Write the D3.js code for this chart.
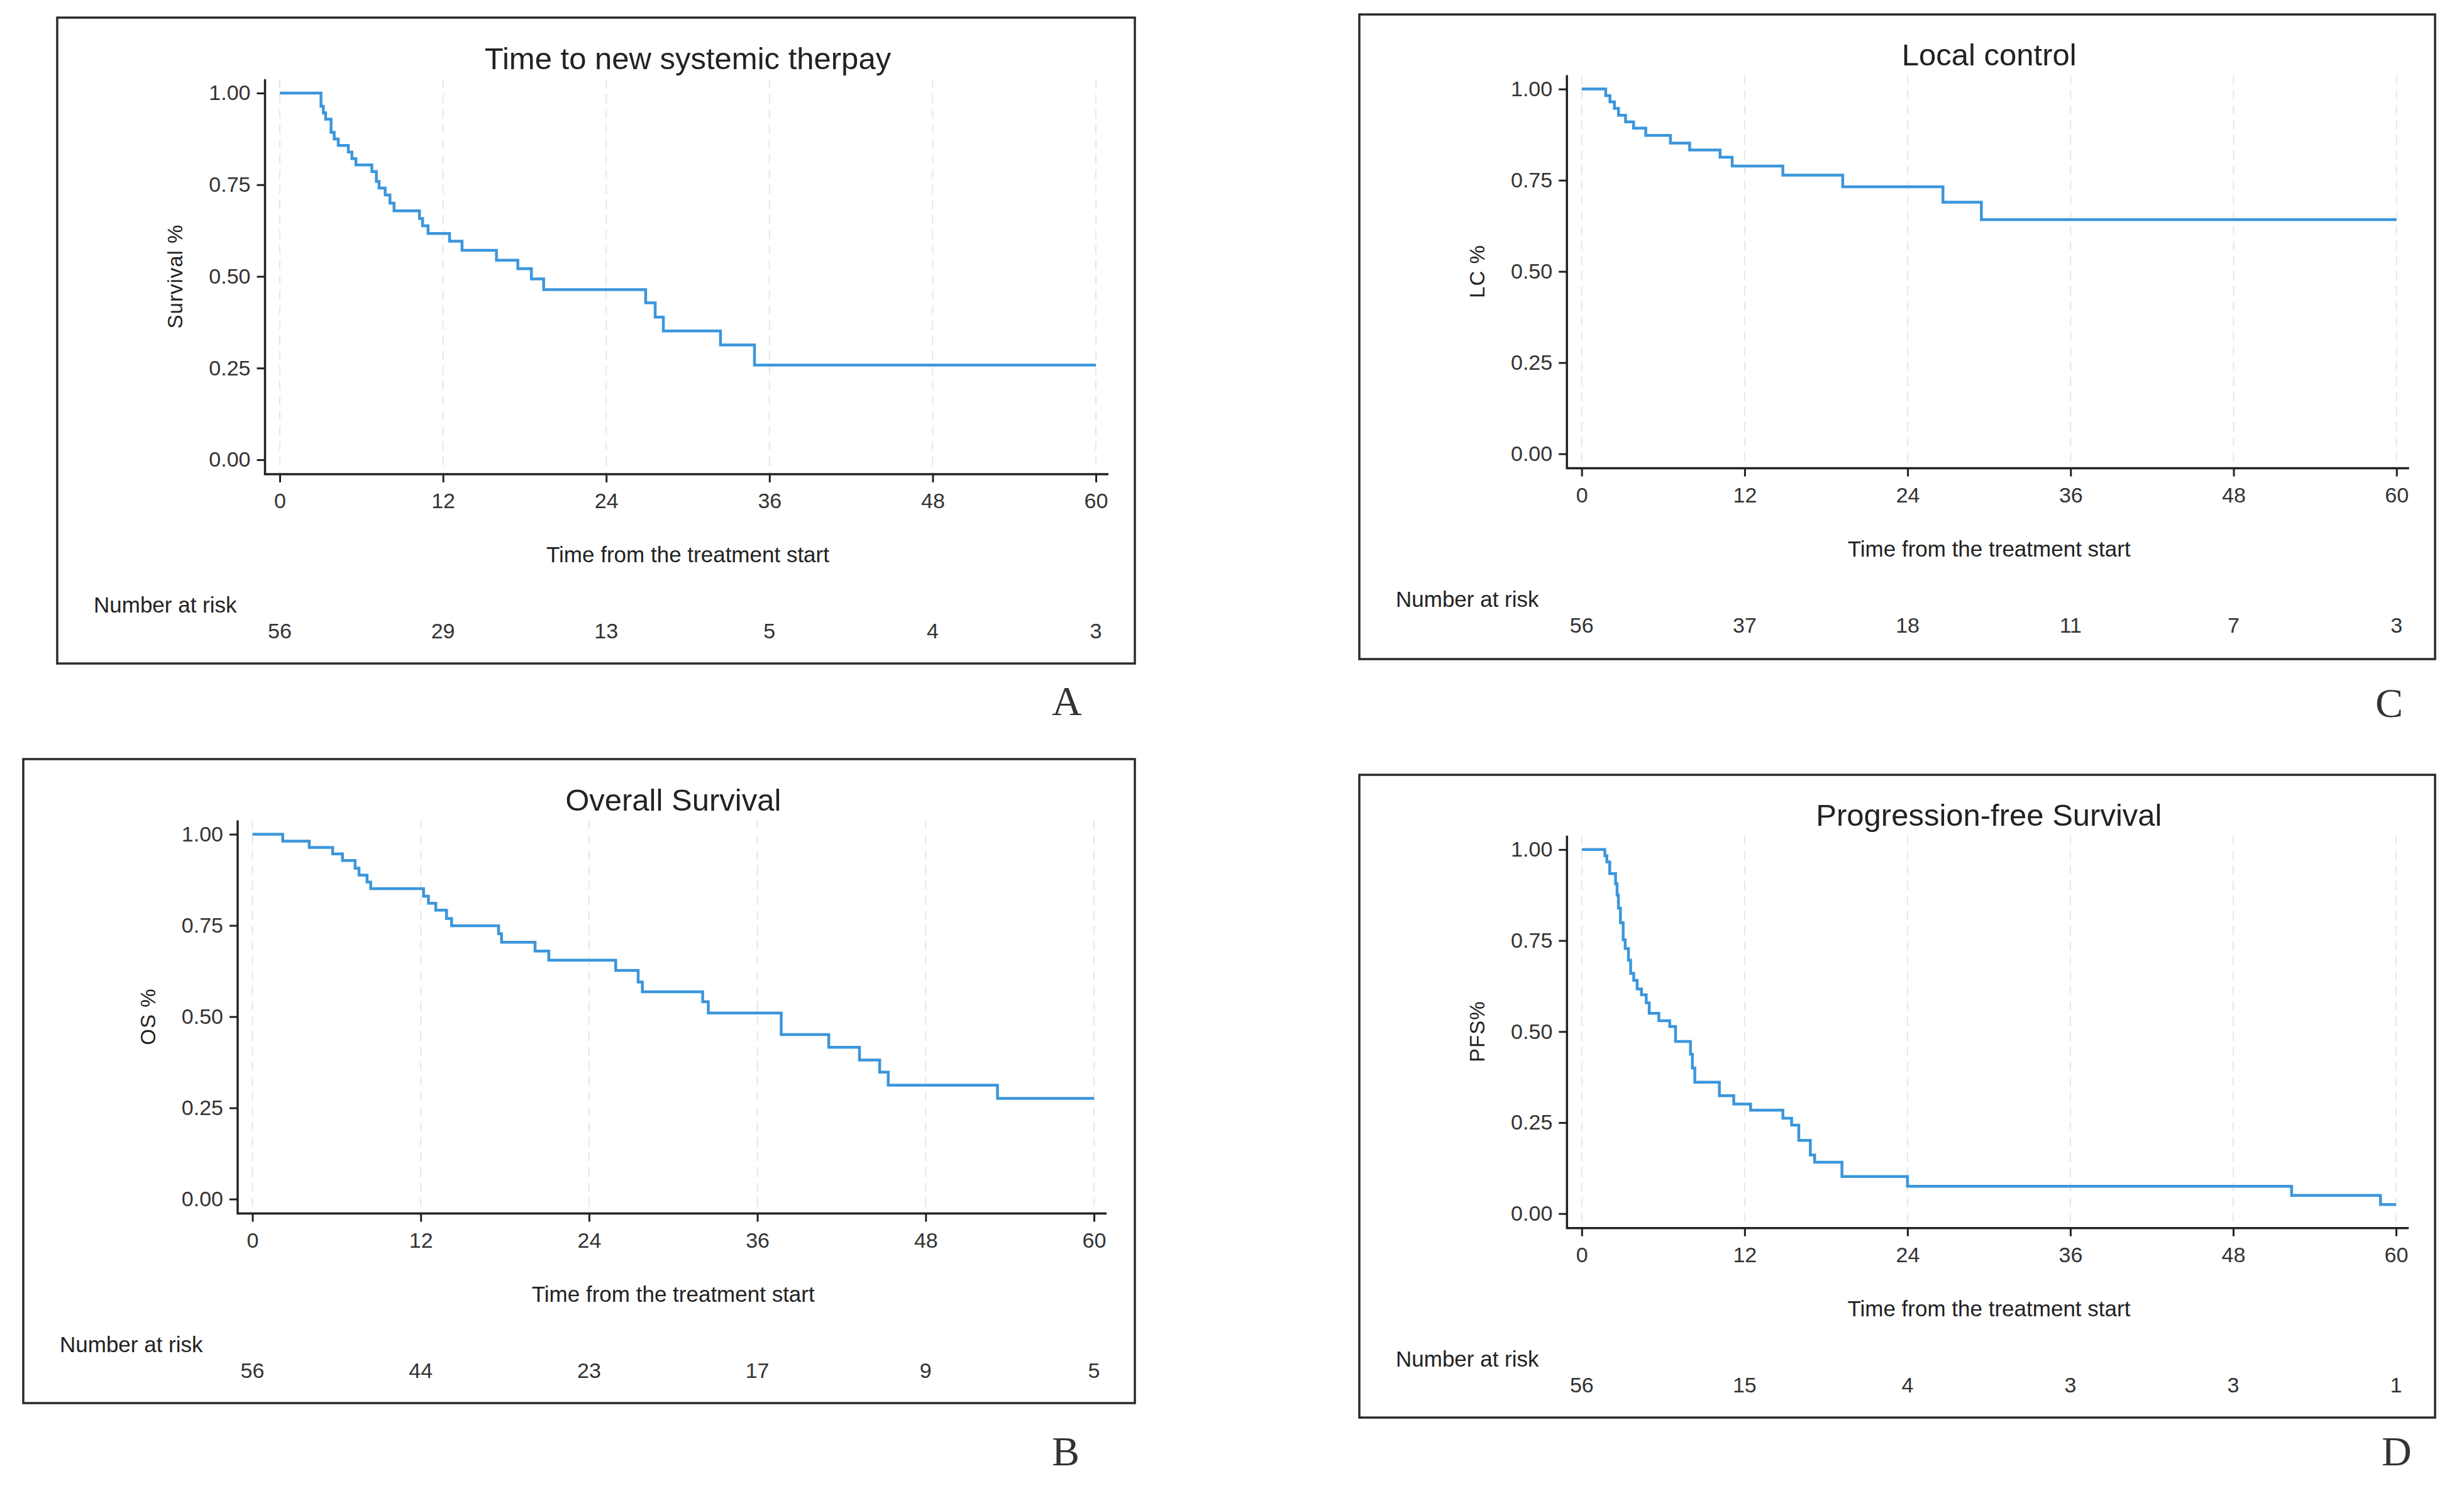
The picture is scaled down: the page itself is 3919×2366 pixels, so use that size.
<!DOCTYPE html>
<html>
<head>
<meta charset="utf-8">
<script src="https://cdn.jsdelivr.net/npm/d3@7"></script>
<style>
  html, body { margin: 0; padding: 0; background: #fff; }
  svg { display: block; }
  text { font-family: "Liberation Sans", Arial, sans-serif; fill: #222; }
  .tick text { font-size: 34px; fill: #333; }
  .tick line { stroke: #222; stroke-width: 3; }
  .letter { font-family: "Liberation Serif", "DejaVu Serif", serif; font-size: 66px; fill: #333; }
</style>
</head>
<body>
<svg id="chart" width="3919" height="2366"></svg>
<script>
const X_TICKS = [0, 12, 24, 36, 48, 60];
const Y_TICKS = [0, 0.25, 0.5, 0.75, 1];
const X_TITLE = 'Time from the treatment start';
const RISK_LABEL = 'Number at risk';

// A: time to new systemic therapy
const A_TIME = [0, 3.03, 3.2, 3.37, 3.77, 4.0, 4.3, 5.04, 5.3, 5.6, 6.77, 7.1, 7.3, 7.75, 8.1, 8.4, 10.27, 10.5, 10.9, 12.48, 13.4, 15.93, 17.5, 18.5, 19.4, 26.9, 27.6, 28.2, 32.4, 34.9, 60];
const A_SURV = [1, 0.964, 0.946, 0.929, 0.893, 0.875, 0.857, 0.839, 0.821, 0.804, 0.786, 0.759, 0.741, 0.722, 0.7, 0.679, 0.658, 0.638, 0.617, 0.596, 0.571, 0.544, 0.521, 0.493, 0.464, 0.428, 0.389, 0.351, 0.313, 0.258, 0.258];
const A_RISK = [56, 29, 13, 5, 4, 3];

// B: overall survival
const B_TIME = [0, 2.16, 4.05, 5.72, 6.42, 7.32, 7.6, 8.17, 8.43, 12.2, 12.55, 13.07, 13.84, 14.2, 17.55, 17.76, 20.15, 21.13, 25.9, 27.5, 27.8, 32.1, 32.5, 37.7, 41.09, 43.28, 44.72, 45.33, 53.12, 60];
const B_SURV = [1, 0.981, 0.964, 0.946, 0.928, 0.907, 0.888, 0.869, 0.851, 0.830, 0.811, 0.792, 0.769, 0.749, 0.727, 0.704, 0.680, 0.655, 0.627, 0.595, 0.568, 0.541, 0.510, 0.451, 0.416, 0.381, 0.348, 0.312, 0.276, 0.276];
const B_RISK = [56, 44, 23, 17, 9, 5];

// C: local control
const C_TIME = [0, 1.77, 2.08, 2.41, 2.71, 3.23, 3.82, 4.72, 6.53, 7.95, 10.19, 11.08, 14.81, 19.22, 26.6, 29.43, 60];
const C_SURV = [1, 0.982, 0.965, 0.947, 0.928, 0.910, 0.893, 0.873, 0.852, 0.833, 0.813, 0.789, 0.764, 0.732, 0.690, 0.642, 0.642];
const C_RISK = [56, 37, 18, 11, 7, 3];

// D: progression-free survival
const D_TIME = [0, 1.70, 1.85, 2.06, 2.49, 2.6, 2.7, 2.85, 3.05, 3.2, 3.44, 3.6, 3.83, 4.08, 4.40, 4.75, 4.97, 5.68, 6.48, 6.91, 8.01, 8.15, 8.33, 10.14, 11.2, 12.44, 14.82, 15.46, 15.99, 16.84, 17.16, 19.17, 24.0, 52.3, 58.85, 60];
const D_SURV = [1, 0.983, 0.966, 0.934, 0.906, 0.875, 0.839, 0.799, 0.752, 0.728, 0.696, 0.660, 0.641, 0.617, 0.601, 0.579, 0.550, 0.530, 0.514, 0.473, 0.438, 0.400, 0.361, 0.324, 0.301, 0.284, 0.262, 0.243, 0.201, 0.161, 0.141, 0.102, 0.075, 0.050, 0.025, 0.025];
const D_RISK = [56, 15, 4, 3, 3, 1];

const panels = [
  { letter: 'A', title: 'Time to new systemic therpay', ylab: 'Survival %', time: A_TIME, surv: A_SURV, risk: A_RISK,
    box: [91, 28, 1805, 1055], xr: [445, 1743], yr: [731, 148], letterPos: [1673, 1137] },
  { letter: 'B', title: 'Overall Survival', ylab: 'OS %', time: B_TIME, surv: B_SURV, risk: B_RISK,
    box: [37, 1207, 1805, 2231], xr: [401.5, 1740], yr: [1906.6, 1326.5], letterPos: [1673, 2330] },
  { letter: 'C', title: 'Local control', ylab: 'LC %', time: C_TIME, surv: C_SURV, risk: C_RISK,
    box: [2162, 23, 3873, 1048], xr: [2515.7, 3811.7], yr: [721.6, 141.6], letterPos: [3778, 1140] },
  { letter: 'D', title: 'Progression-free Survival', ylab: 'PFS%', time: D_TIME, surv: D_SURV, risk: D_RISK,
    box: [2162, 1232, 3873, 2254], xr: [2515.8, 3811], yr: [1929.7, 1350.8], letterPos: [3788, 2330] }
];

const svg = d3.select('#chart');

function drawPanel(p) {
  const g = svg.append('g').attr('class', 'panel');
  const x = d3.scaleLinear().domain([0, 60]).range(p.xr);
  const y = d3.scaleLinear().domain([0, 1]).range(p.yr);
  const yAxisX = p.xr[0] - 23.5;
  const xAxisY = p.yr[0] + 23;
  const top = p.yr[1] - 22;

  g.append('rect')
    .attr('x', p.box[0]).attr('y', p.box[1])
    .attr('width', p.box[2] - p.box[0]).attr('height', p.box[3] - p.box[1])
    .attr('fill', 'none').attr('stroke', '#2a2a2a').attr('stroke-width', 3.5);

  // faint dashed grid at the month ticks
  g.selectAll('line.grid').data(X_TICKS).join('line')
    .attr('class', 'grid')
    .attr('x1', d => x(d)).attr('x2', d => x(d))
    .attr('y1', top).attr('y2', xAxisY)
    .attr('stroke', '#e6e6e6').attr('stroke-width', 2).attr('stroke-dasharray', '14 10');

  const xAxis = g.append('g').attr('transform', `translate(0,${xAxisY})`)
    .call(d3.axisBottom(x).tickValues(X_TICKS).tickSize(13).tickPadding(17).tickFormat(d3.format('d')));
  xAxis.select('.domain').remove();

  const yAxis = g.append('g').attr('transform', `translate(${yAxisX},0)`)
    .call(d3.axisLeft(y).tickValues(Y_TICKS).tickSize(13).tickPadding(10).tickFormat(d3.format('.2f')));
  yAxis.select('.domain').remove();

  g.append('path')
    .attr('d', `M${yAxisX},${top}V${xAxisY}H${x(60) + 20}`)
    .attr('fill', 'none').attr('stroke', '#222').attr('stroke-width', 3.5);

  const pts = p.time.map((t, i) => [t, p.surv[i]]);
  g.append('path')
    .datum(pts)
    .attr('fill', 'none')
    .attr('stroke', '#3b96dc')
    .attr('stroke-width', 4.5)
    .attr('d', d3.line().x(d => x(d[0])).y(d => y(d[1])).curve(d3.curveStepAfter));

  const cx = (p.xr[0] + p.xr[1]) / 2;
  g.append('text').attr('x', cx).attr('y', p.yr[1] - 38)
    .attr('text-anchor', 'middle').style('font-size', '49px').text(p.title);

  g.append('text')
    .attr('transform', `translate(${yAxisX - 143},${y(0.5)}) rotate(-90)`)
    .attr('text-anchor', 'middle').attr('dominant-baseline', 'central')
    .style('font-size', '33px').style('letter-spacing', '1px').text(p.ylab);

  g.append('text').attr('x', cx).attr('y', xAxisY + 140)
    .attr('text-anchor', 'middle').style('font-size', '35px').text(X_TITLE);

  g.append('text').attr('x', p.box[0] + 58).attr('y', xAxisY + 220)
    .style('font-size', '35px').text(RISK_LABEL);

  g.selectAll('text.risk').data(p.risk).join('text')
    .attr('class', 'risk')
    .attr('x', (d, i) => x(X_TICKS[i]))
    .attr('y', xAxisY + 261)
    .attr('text-anchor', 'middle')
    .style('font-size', '34px').style('fill', '#333')
    .text(d => d);

  svg.append('text').attr('class', 'letter')
    .attr('x', p.letterPos[0]).attr('y', p.letterPos[1])
    .text(p.letter);
}

panels.forEach(drawPanel);
</script>
</body>
</html>
